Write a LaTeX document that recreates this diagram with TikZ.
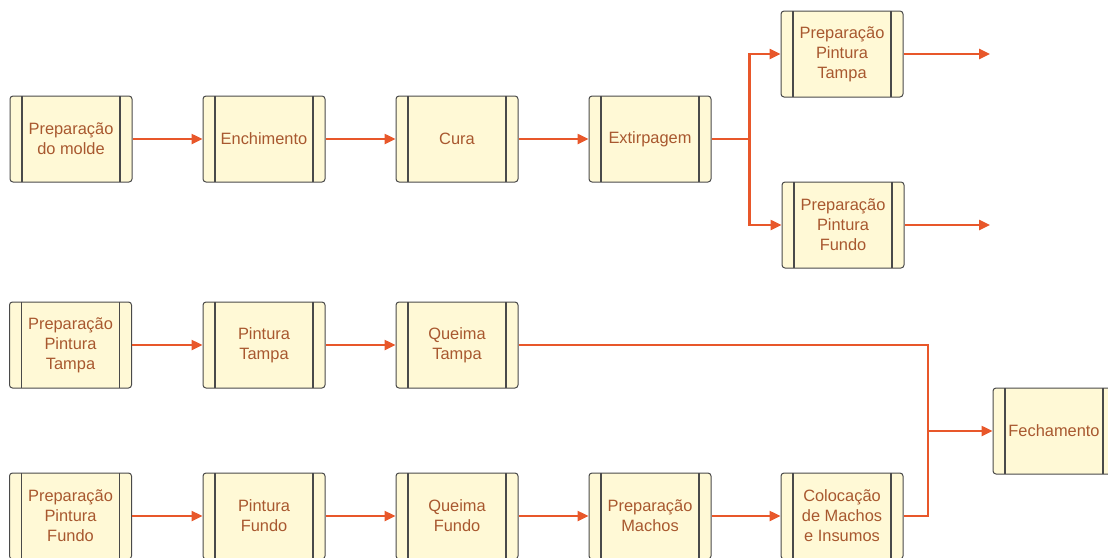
\documentclass[tikz,border=0pt]{standalone}
\usepackage{fontspec}
\setmainfont{Liberation Sans}
\usetikzlibrary{arrows.meta}
\definecolor{boxfill}{HTML}{FFF9D6}
\definecolor{boxline}{HTML}{4A4A4A}
\definecolor{txtcol}{HTML}{A8582F}
\definecolor{linecol}{HTML}{E8572A}
\begin{document}
\begin{tikzpicture}[x=1pt,y=-1pt,
  proc/.style={rectangle, draw=boxline, fill=boxfill, rounded corners=3pt,
    line width=1pt, minimum width=122pt, minimum height=86pt, inner sep=0pt,
    align=center, text=txtcol, font=\fontsize{16.4}{20}\selectfont,
    path picture={
      \draw[boxline, line width=1.1pt]
        ([xshift=12pt]path picture bounding box.north west) -- ([xshift=12pt]path picture bounding box.south west)
        ([xshift=-12pt]path picture bounding box.north east) -- ([xshift=-12pt]path picture bounding box.south east);
    }},
  conn/.style={draw=linecol, line width=2.4pt},
  arr/.style={conn, -{Triangle[length=11pt,width=10pt]}}]
\useasboundingbox (0,0) rectangle (1108,557);
\clip (0,0) rectangle (1108,557);

% row 1
\node[proc] (r1a) at (71,139) {Preparação\\do molde};
\node[proc] (r1b) at (264,139) {Enchimento};
\node[proc] (r1c) at (457,139) {Cura};
\node[proc] (r1d) at (650,139) {Extirpagem};
\node[proc] (t1) at (842,54) {Preparação\\Pintura\\Tampa};
\node[proc] (t2) at (843,225) {Preparação\\Pintura\\Fundo};
\coordinate (e1) at (990,54);
\coordinate (e2) at (990,225);

% row 2
\node[proc] (r2a) at (70.5,345) {Preparação\\Pintura\\Tampa};
\node[proc] (r2b) at (264,345) {Pintura\\Tampa};
\node[proc] (r2c) at (457,345) {Queima\\Tampa};
\node[proc] (f) at (1054,431) {Fechamento};

% row 3
\node[proc] (r3a) at (70.5,516) {Preparação\\Pintura\\Fundo};
\node[proc] (r3b) at (264,516) {Pintura\\Fundo};
\node[proc] (r3c) at (457,516) {Queima\\Fundo};
\node[proc] (r3d) at (650,516) {Preparação\\Machos};
\node[proc] (r3e) at (842,516) {Colocação\\de Machos\\e Insumos};

\coordinate (j) at (928,431);

% connectors
\draw[arr] (r1a) -- (r1b);
\draw[arr] (r1b) -- (r1c);
\draw[arr] (r1c) -- (r1d);
\draw[arr] (r1d.east) -- ++(38,0) |- (t1.west);
\draw[arr] (r1d.east) -- ++(38,0) |- (t2.west);
\draw[arr] (t1.east) -- (e1);
\draw[arr] (t2.east) -- (e2);

\draw[arr] (r2a) -- (r2b);
\draw[arr] (r2b) -- (r2c);
\draw[conn] (r2c.east) -| (j);

\draw[arr] (r3a) -- (r3b);
\draw[arr] (r3b) -- (r3c);
\draw[arr] (r3c) -- (r3d);
\draw[arr] (r3d) -- (r3e);
\draw[conn] (r3e.east) -| (j);
\draw[arr] (j) -- (f.west);
\end{tikzpicture}
\end{document}
